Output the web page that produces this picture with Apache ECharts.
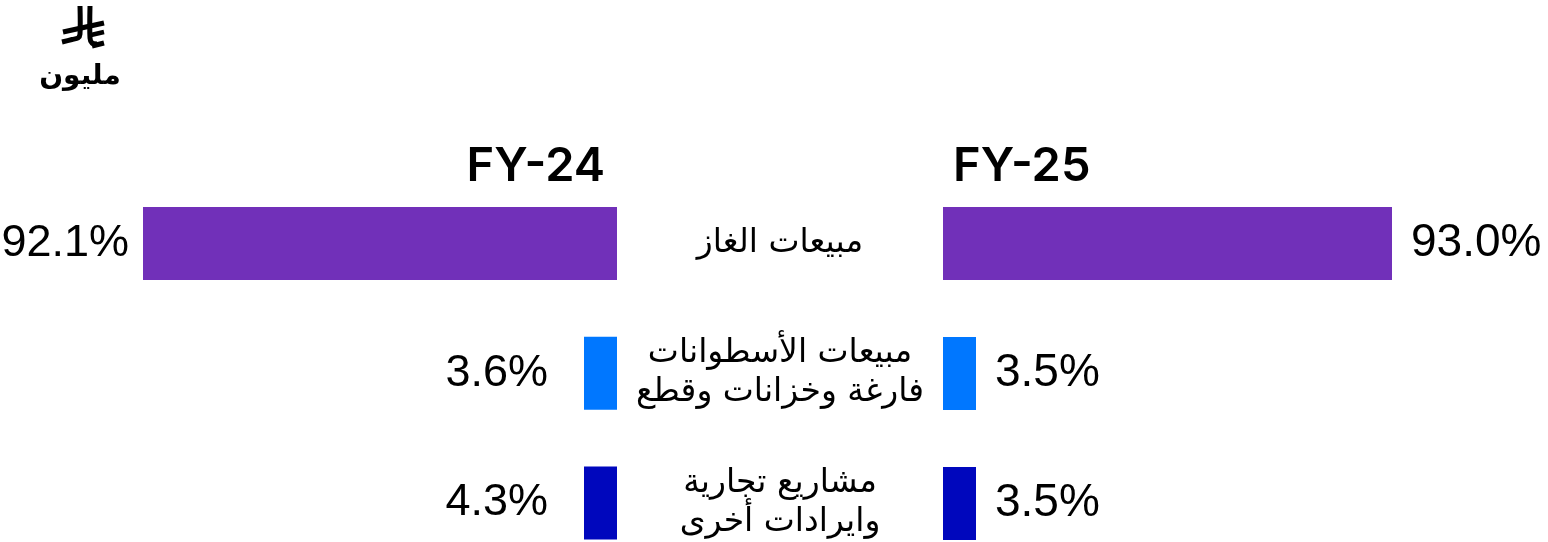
<!DOCTYPE html>
<html>
<head>
<meta charset="utf-8">
<script src="https://cdn.jsdelivr.net/npm/echarts@6/dist/echarts.min.js"></script>
<style>
html,body{margin:0;padding:0;background:#fff;}
#chart{width:1548px;height:542px;}
</style>
</head>
<body>
<div id="chart"></div>
<script>
// ---- data ----
const years = ['FY-24', 'FY-25'];
const categories = [
  'مبيعات الغاز',
  'مبيعات الأسطوانات\nفارغة وخزانات وقطع',
  'مشاريع تجارية\nوايرادات أخرى'
];
const fy24 = [92.1, 3.6, 4.3];
const fy25 = [93.0, 3.5, 3.5];
const unitLabel = 'مليون';

// ---- style ----
const barColors = ['#7130B9', '#0077FF', '#0007BD'];
const numFont = 'Liberation Sans, Arial, sans-serif';
const arFont = 'DejaVu Sans, sans-serif';

const chart = echarts.init(document.getElementById('chart'), null, {renderer: 'canvas'});

// first category centre at 243.5, last at 503.5 (boundaryGap false)
const gridTop = 243.5, gridHeight = 260;

const leftData = fy24.map((v, i) => ({value: v, label: {distance: i === 0 ? 14 : 36}}));

const catAxisBase = {
  type: 'category', data: categories, inverse: true, boundaryGap: false,
  axisLine: {show: false}, axisTick: {show: false}, splitLine: {show: false}
};

const option = {
  backgroundColor: '#ffffff',
  animation: false,
  grid: [
    {left: 143, width: 474, top: gridTop, height: gridHeight, containLabel: false},
    {left: 943, width: 449, top: gridTop, height: gridHeight, containLabel: false}
  ],
  xAxis: [
    {gridIndex: 0, type: 'value', inverse: true, min: 0, max: 92.1, show: false},
    {gridIndex: 1, type: 'value', min: 0, max: 93, show: false}
  ],
  yAxis: [
    Object.assign({}, catAxisBase, {
      gridIndex: 0, position: 'right',
      axisLabel: {
        show: true, margin: 163, align: 'center', verticalAlign: 'middle',
        fontFamily: arFont, fontSize: 33, lineHeight: 39, color: '#000'
      }
    }),
    Object.assign({}, catAxisBase, {gridIndex: 1, axisLabel: {show: false}})
  ],
  series: [
    {
      name: years[0], type: 'bar', xAxisIndex: 0, yAxisIndex: 0,
      data: leftData, barWidth: 73, barMinHeight: 33,
      itemStyle: {color: p => barColors[p.dataIndex]},
      label: {
        show: true, position: 'left',
        formatter: p => p.value.toFixed(1) + '%',
        fontFamily: numFont, fontSize: 45, color: '#000'
      }
    },
    {
      name: years[1], type: 'bar', xAxisIndex: 1, yAxisIndex: 1,
      data: fy25, barWidth: 73, barMinHeight: 33,
      itemStyle: {color: p => barColors[p.dataIndex]},
      label: {
        show: true, position: 'right', distance: 19,
        formatter: p => p.value.toFixed(1) + '%',
        fontFamily: numFont, fontSize: 46, color: '#000'
      }
    }
  ],
  graphic: [
    {
      type: 'text', x: 605, y: 167,
      style: {text: years[0], textAlign: 'right', textVerticalAlign: 'middle',
        font: '600 47px Inter, Liberation Sans, sans-serif', fill: '#000'}
    },
    {
      type: 'text', x: 953, y: 167,
      style: {text: years[1], textAlign: 'left', textVerticalAlign: 'middle',
        font: '600 47px Inter, Liberation Sans, sans-serif', fill: '#000'}
    },
    {
      type: 'text', x: 80, y: 77,
      style: {text: unitLabel, textAlign: 'center', textVerticalAlign: 'middle',
        font: 'bold 28px DejaVu Sans, sans-serif', fill: '#000'}
    },
    // Saudi riyal sign (drawn as strokes)
    {
      type: 'group',
      children: [
        {type: 'polyline', shape: {points: [[80,6],[80,34],[78,38],[72,39.5],[62,42]], smooth: 0.3},
          style: {stroke: '#000', lineWidth: 5, fill: null, lineCap: 'butt'}},
        {type: 'polyline', shape: {points: [[90,6],[90,38],[92,43],[97,44]], smooth: 0.3},
          style: {stroke: '#000', lineWidth: 5, fill: null, lineCap: 'butt'}},
        {type: 'line', shape: {x1: 63, y1: 32, x2: 104, y2: 23},
          style: {stroke: '#000', lineWidth: 5, lineCap: 'butt'}},
        {type: 'line', shape: {x1: 92, y1: 46, x2: 104, y2: 43},
          style: {stroke: '#000', lineWidth: 5, lineCap: 'butt'}},
        {type: 'line', shape: {x1: 91, y1: 35, x2: 104, y2: 32},
          style: {stroke: '#000', lineWidth: 4.5, lineCap: 'butt'}}
      ]
    }
  ]
};
chart.setOption(option);
</script>
</body>
</html>
